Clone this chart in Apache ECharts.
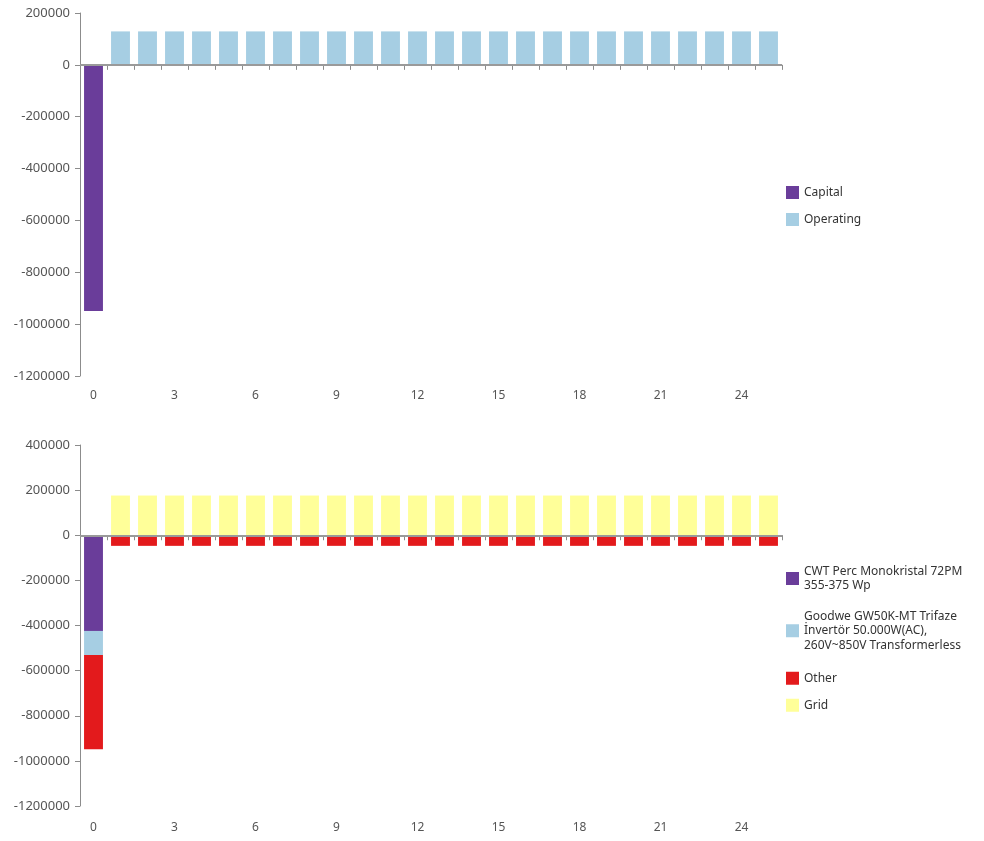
<!DOCTYPE html>
<html>
<head>
<meta charset="utf-8">
<script src="https://cdn.jsdelivr.net/npm/echarts@6/dist/echarts.min.js"></script>
<style>
html,body{margin:0;padding:0;background:#fff;}
#chart{width:984px;height:841px;}
</style>
</head>
<body>
<div id="chart"></div>
<script>
// ---- data ----
var years = ['0','1','2','3','4','5','6','7','8','9','10','11','12','13','14','15','16','17','18','19','20','21','22','23','24','25'];

// top chart
var capital   = [-949000, null,null,null,null,null,null,null,null,null,null,null,null,null,null,null,null,null,null,null,null,null,null,null,null,null];
var operating = [null, 129000,129000,129000,129000,129000,129000,129000,129000,129000,129000,129000,129000,129000,129000,129000,129000,129000,129000,129000,129000,129000,129000,129000,129000,129000];

// bottom chart
var cwt    = [-424000, null,null,null,null,null,null,null,null,null,null,null,null,null,null,null,null,null,null,null,null,null,null,null,null,null];
var goodwe = [-107000, null,null,null,null,null,null,null,null,null,null,null,null,null,null,null,null,null,null,null,null,null,null,null,null,null];
var other  = [-418000, -47000,-47000,-47000,-47000,-47000,-47000,-47000,-47000,-47000,-47000,-47000,-47000,-47000,-47000,-47000,-47000,-47000,-47000,-47000,-47000,-47000,-47000,-47000,-47000,-47000];
var grid   = [null, 176000,176000,176000,176000,176000,176000,176000,176000,176000,176000,176000,176000,176000,176000,176000,176000,176000,176000,176000,176000,176000,176000,176000,176000,176000];

var nameCapital = 'Capital';
var nameOperating = 'Operating';
var nameCwt = 'CWT Perc Monokristal 72PM 355-375 Wp';
var nameGoodwe = 'Goodwe GW50K-MT Trifaze İnvertör 50.000W(AC), 260V~850V Transformerless';
var nameOther = 'Other';
var nameGrid = 'Grid';
var legendLabels = {};
legendLabels[nameCwt] = 'CWT Perc Monokristal 72PM\n355-375 Wp';
legendLabels[nameGoodwe] = 'Goodwe GW50K-MT Trifaze\nİnvertör 50.000W(AC),\n260V~850V Transformerless';

var topTicks = {min: -1200000, max: 200000, interval: 200000};
var bottomTicks = {min: -1200000, max: 400000, interval: 200000};

// ---- styling ----
var FONT = 'Noto Sans';
var C_PURPLE = '#6a3d9a', C_BLUE = '#a6cee3', C_RED = '#e31a1c', C_YELLOW = '#ffff99';
var axisColor = '#8c8c8c';
var labelColor = '#555';

function xAxis(gridIndex, margin) {
  return {
    type: 'category', gridIndex: gridIndex, data: years,
    boundaryGap: true,
    axisLine: {show: true, lineStyle: {color: axisColor, width: 1}},
    axisTick: {show: true, length: 5, interval: 0, alignWithLabel: false, lineStyle: {color: axisColor, width: 1}},
    axisLabel: {interval: 2, margin: margin, color: labelColor, fontFamily: FONT, fontSize: 12},
    splitLine: {show: false}
  };
}
function yAxis(gridIndex, t) {
  return {
    type: 'value', gridIndex: gridIndex, min: t.min, max: t.max, interval: t.interval,
    axisLine: {show: true, lineStyle: {color: axisColor, width: 1}},
    axisTick: {show: true, length: 5, lineStyle: {color: axisColor}},
    axisLabel: {margin: 10, color: labelColor, fontFamily: FONT, fontSize: 13,
      formatter: function (v) { return String(v); }},
    splitLine: {show: false}
  };
}
var zeroLine = {
  silent: true, symbol: 'none', animation: false,
  label: {show: false},
  lineStyle: {color: '#9a9a9a', width: 2, type: 'solid'},
  data: [{yAxis: 0}]
};
function legendItem(name, top) {
  return {
    data: [name], left: 786, top: top, orient: 'vertical', padding: 0,
    itemWidth: 13, itemHeight: 13, itemGap: 14, icon: 'rect',
    selectedMode: false,
    formatter: function (n) { return legendLabels[n] || n; },
    textStyle: {color: '#333', fontFamily: FONT, fontSize: 12, lineHeight: 14.5}
  };
}

var chart = echarts.init(document.getElementById('chart'), null, {renderer: 'canvas'});
chart.setOption({
  animation: false,
  textStyle: {fontFamily: FONT},
  grid: [
    {left: 80, right: 202, top: 13, bottom: 465},
    {left: 80, right: 202, top: 445, bottom: 35}
  ],
  legend: [
    {
      data: [nameCapital, nameOperating], left: 786, top: 186, orient: 'vertical', padding: 0,
      itemWidth: 13, itemHeight: 13, itemGap: 14, icon: 'rect', selectedMode: false,
      textStyle: {color: '#333', fontFamily: FONT, fontSize: 12}
    },
    legendItem(nameCwt, 564),
    legendItem(nameGoodwe, 609),
    legendItem(nameOther, 671),
    legendItem(nameGrid, 698)
  ],
  xAxis: [xAxis(0, 14), xAxis(1, 16)],
  yAxis: [yAxis(0, topTicks), yAxis(1, bottomTicks)],
  series: [
    {name: nameCapital, type: 'bar', xAxisIndex: 0, yAxisIndex: 0, stack: 'a', barWidth: '70%',
     itemStyle: {color: C_PURPLE}, data: capital},
    {name: nameOperating, type: 'bar', xAxisIndex: 0, yAxisIndex: 0, stack: 'a', barWidth: '70%',
     itemStyle: {color: C_BLUE}, data: operating, markLine: zeroLine},
    {name: nameCwt, type: 'bar', xAxisIndex: 1, yAxisIndex: 1, stack: 'b', barWidth: '70%',
     itemStyle: {color: C_PURPLE}, data: cwt},
    {name: nameGoodwe, type: 'bar', xAxisIndex: 1, yAxisIndex: 1, stack: 'b', barWidth: '70%',
     itemStyle: {color: C_BLUE}, data: goodwe},
    {name: nameOther, type: 'bar', xAxisIndex: 1, yAxisIndex: 1, stack: 'b', barWidth: '70%',
     itemStyle: {color: C_RED}, data: other},
    {name: nameGrid, type: 'bar', xAxisIndex: 1, yAxisIndex: 1, stack: 'b', barWidth: '70%',
     itemStyle: {color: C_YELLOW}, data: grid, markLine: zeroLine}
  ]
});
</script>
</body>
</html>
